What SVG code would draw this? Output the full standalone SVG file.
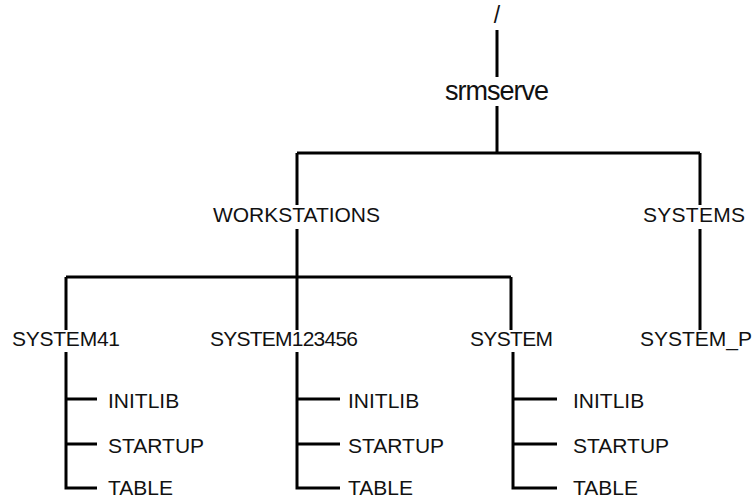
<svg xmlns="http://www.w3.org/2000/svg" width="756" height="500" viewBox="0 0 756 500">
<style>
text{font-family:"Liberation Sans",Arial,sans-serif;font-size:21px;fill:#111}
.c{stroke:#000;stroke-width:3;fill:none;stroke-linecap:butt}
</style>
<rect width="756" height="500" fill="#fff"/>
<g id="connectors">
<path class="c" d="M497 30V77M497 106V153M297 153H700M297 153V205M700 153V205M297 229V277M66 277H511M66 277V330M297 277V330M511 277V330M700 229V330"/>
<path class="c" d="M66 352V488H97M66 399H97M66 444H97"/>
<path class="c" d="M297 352V488H340M297 399H340M297 444H340"/>
<path class="c" d="M513 352V488H557M513 399H557M513 444H557"/>
</g>
<g id="root"><text x="497" y="23" text-anchor="middle" style="font-size:23px">/</text></g>
<g id="srmserve"><text x="445" y="100" textLength="104" style="font-size:27px">srmserve</text></g>
<g id="workstations"><text x="213" y="222" textLength="167">WORKSTATIONS</text></g>
<g id="systems"><text x="643" y="222" textLength="102">SYSTEMS</text></g>
<g id="system41"><text x="12" y="346" textLength="108">SYSTEM41</text></g>
<g id="system123456"><text x="210" y="346" textLength="148">SYSTEM123456</text></g>
<g id="system"><text x="470" y="346" textLength="83">SYSTEM</text></g>
<g id="system_p"><text x="640" y="346" textLength="112">SYSTEM_P</text></g>
<g id="s41-initlib"><text x="108" y="408">INITLIB</text></g>
<g id="s41-startup"><text x="108" y="453">STARTUP</text></g>
<g id="s41-table"><text x="108" y="495">TABLE</text></g>
<g id="s123-initlib"><text x="348" y="408">INITLIB</text></g>
<g id="s123-startup"><text x="348" y="453">STARTUP</text></g>
<g id="s123-table"><text x="348" y="495">TABLE</text></g>
<g id="sys-initlib"><text x="573" y="408">INITLIB</text></g>
<g id="sys-startup"><text x="573" y="453">STARTUP</text></g>
<g id="sys-table"><text x="573" y="495">TABLE</text></g>
</svg>
